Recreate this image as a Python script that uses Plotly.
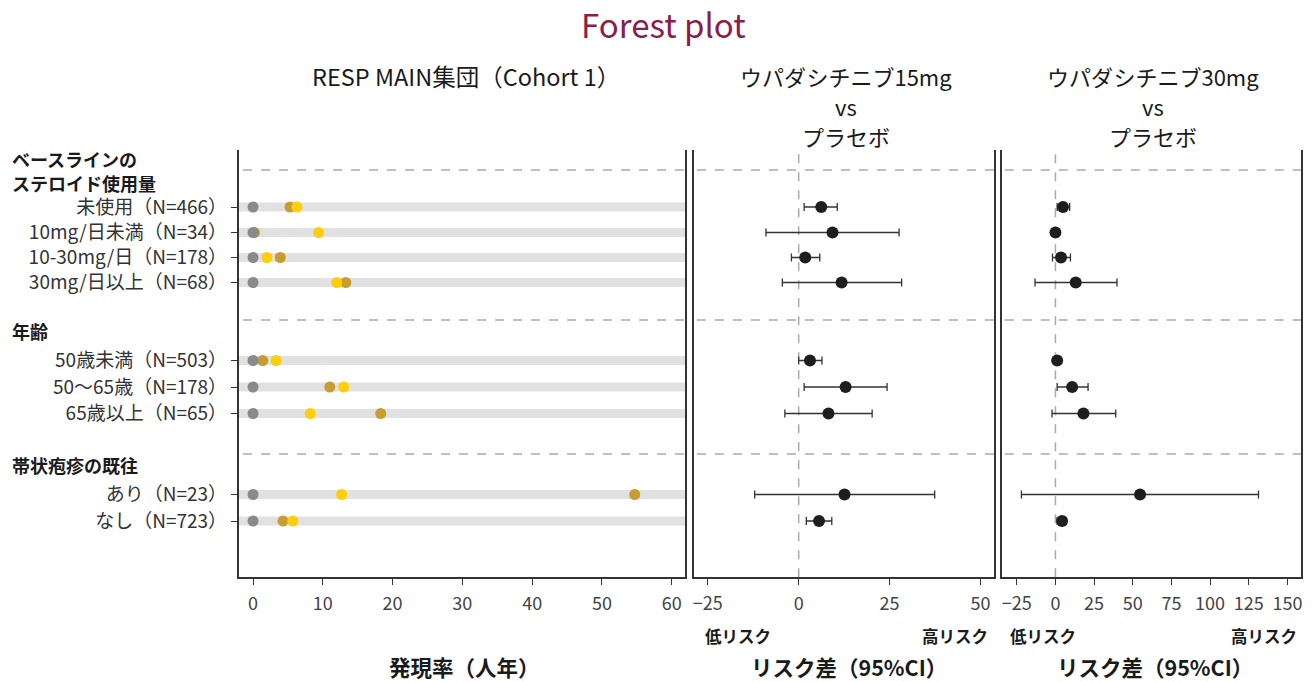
import plotly.graph_objects as go

# ---- data -------------------------------------------------------------
row_labels = [
    "未使用（N=466）", "10mg/日未満（N=34）", "10-30mg/日（N=178）", "30mg/日以上（N=68）",
    "50歳未満（N=503）", "50～65歳（N=178）", "65歳以上（N=65）",
    "あり（N=23）", "なし（N=723）",
]
group_titles = [["ベースラインの", "ステロイド使用量"], ["年齢"], ["帯状疱疹の既往"]]

# incidence rate (per 100 person-years)
rate_placebo = [0.0, 0.0, 0.0, 0.0, 0.0, 0.0, 0.0, 0.0, 0.0]
rate_15mg = [6.3, 9.4, 2.0, 12.0, 3.3, 13.0, 8.2, 12.7, 5.7]
rate_30mg = [5.3, 0.2, 3.9, 13.3, 1.4, 11.0, 18.3, 54.7, 4.3]

# risk difference vs placebo with 95% CI
rd15 = [6.2, 9.3, 1.8, 11.8, 3.1, 12.9, 8.2, 12.6, 5.6]
rd15_lo = [1.5, -9.0, -2.0, -4.5, 0.0, 1.5, -3.8, -12.1, 2.1]
rd15_hi = [10.6, 27.6, 5.8, 28.3, 6.4, 24.3, 20.2, 37.4, 9.1]

rd30 = [4.9, 0.0, 3.6, 13.1, 1.1, 10.8, 18.1, 54.7, 4.3]
rd30_lo = [1.1, -0.5, -1.9, -13.2, 0.0, 1.1, -2.2, -22.0, 1.1]
rd30_hi = [9.2, 0.5, 9.7, 39.8, 2.3, 21.1, 39.0, 131.3, 7.0]

left_ticks = [0, 10, 20, 30, 40, 50, 60]
mid_ticks = [-25, 0, 25, 50]
right_ticks = [-25, 0, 25, 50, 75, 100, 125, 150]

# ---- layout geometry (vertical positions in plot units, top = 150) ----
row_pos = [207, 232.5, 257.5, 282.5, 360.5, 387, 413.5, 494.5, 521]
separator_pos = [170, 320, 454]
group_title_pos = [159, 331, 465]
GROUP_LINE_STEP = 24
Y_RANGE = [577.3, 150]

W, H = 1316, 682
FONT = "Noto Sans CJK JP, Noto Sans, sans-serif"
C_GRAY, C_GOLD, C_YELLOW = "#8a8a8e", "#c89c32", "#fccf0a"
C_BAR = "#e1e1e1"
C_DASH = "#aaaaaa"
C_LINE = "#333333"
C_TEXT = "#1a1a1a"


def px_x(v):
    return v / W


def px_y(v):
    return 1 - v / H


dom_y = [px_y(Y_RANGE[0]), px_y(Y_RANGE[1])]
dom_left = [px_x(238), px_x(685)]
dom_mid = [px_x(694), px_x(994.5)]
dom_right = [px_x(1002.3), px_x(1302.3)]

fig = go.Figure()

# incidence dots
for vals, col in [(rate_30mg, C_GOLD), (rate_15mg, C_YELLOW), (rate_placebo, C_GRAY)]:
    fig.add_trace(go.Scatter(
        x=vals, y=row_pos, mode="markers", xaxis="x", yaxis="y",
        marker=dict(size=11, color=col, line=dict(width=0)),
        showlegend=False, hoverinfo="x",
    ))


def forest(xa, ya, est, lo, hi):
    fig.add_trace(go.Scatter(
        x=est, y=row_pos, mode="markers", xaxis=xa, yaxis=ya,
        marker=dict(size=12, color="#1e1e1e"),
        error_x=dict(type="data", symmetric=False,
                     array=[h - e for h, e in zip(hi, est)],
                     arrayminus=[e - l for e, l in zip(est, lo)],
                     color=C_LINE, thickness=1.3, width=4),
        showlegend=False, hoverinfo="x",
    ))


forest("x2", "y2", rd15, rd15_lo, rd15_hi)
forest("x3", "y3", rd30, rd30_lo, rd30_hi)

shapes = []
# grey track behind each row of the incidence panel
for y in row_pos:
    shapes.append(dict(type="rect", xref="x domain", yref="y", x0=0, x1=1,
                       y0=y - 4.5, y1=y + 4.5, fillcolor=C_BAR,
                       line=dict(width=0), layer="below"))
# dashed separators between subgroup blocks
for xr, yr in [("x domain", "y"), ("x2 domain", "y2"), ("x3 domain", "y3")]:
    for y in separator_pos:
        shapes.append(dict(type="line", xref=xr, yref=yr, x0=0.01, x1=1,
                           y0=y, y1=y, line=dict(color=C_DASH, width=1.5, dash="dash"),
                           layer="below"))
# null-effect reference lines
for xr, yr in [("x2", "y2 domain"), ("x3", "y3 domain")]:
    shapes.append(dict(type="line", xref=xr, yref=yr, x0=0, x1=0, y0=0, y1=1,
                       line=dict(color=C_DASH, width=1.5, dash="dash"), layer="below"))


def label(text, x, y, size, weight=400, color=C_TEXT, **kw):
    return dict(text=text, x=px_x(x), y=px_y(y), xref="paper", yref="paper",
                xanchor=kw.pop("xanchor", "center"), yanchor="middle",
                showarrow=False, font=dict(size=size, color=color, family=FONT, weight=weight),
                **kw)


annotations = [
    label("Forest plot", 664, 24, 33, color="#8c1c4b"),
    label("RESP MAIN集団（Cohort 1）", 466, 76, 23.5),
]
for cx, dose in [(846, "15mg"), (1154, "30mg")]:
    for i, line in enumerate([f"ウパダシチニブ{dose}", "vs", "プラセボ"]):
        annotations.append(label(line, cx, 76 + 30 * i, 22))
for lines, y in zip(group_titles, group_title_pos):
    for i, line in enumerate(lines):
        annotations.append(dict(
            text=line, x=px_x(9), y=y + GROUP_LINE_STEP * i, xref="paper", yref="y",
            xanchor="left", yanchor="middle", showarrow=False,
            font=dict(size=18, color=C_TEXT, family=FONT, weight=600)))
for lo_x, hi_x in [(738, 955), (1044, 1265)]:
    annotations.append(label("低リスク", lo_x, 636, 16.5, weight=700))
    annotations.append(label("高リスク", hi_x, 636, 16.5, weight=700))
for cx, t in [(464, "発現率（人年）"), (849, "リスク差（95%CI）"), (1156, "リスク差（95%CI）")]:
    annotations.append(label(t, cx, 666, 21.5, weight=700))

xcommon = dict(showgrid=False, zeroline=False, showline=True, linecolor=C_LINE,
               linewidth=1.5, ticks="outside", ticklen=6, tickcolor=C_LINE,
               ticklabelstandoff=3,
               tickfont=dict(size=18, color="#444444", family=FONT), fixedrange=True)
ycommon = dict(range=Y_RANGE, domain=dom_y, showgrid=False, zeroline=False,
               showline=True, mirror=True, linecolor=C_LINE, linewidth=1.5,
               fixedrange=True)

fig.update_layout(
    width=W, height=H, margin=dict(l=0, r=0, t=0, b=0),
    paper_bgcolor="white", plot_bgcolor="white",
    font=dict(family=FONT),
    xaxis=dict(domain=dom_left, range=[-2.06, 61.9], tickvals=left_ticks, anchor="y", **xcommon),
    xaxis2=dict(domain=dom_mid, range=[-28.8, 53.7], tickvals=mid_ticks, anchor="y2", **xcommon),
    xaxis3=dict(domain=dom_right, range=[-34.7, 159], tickvals=right_ticks, anchor="y3", **xcommon),
    yaxis=dict(anchor="x", tickvals=row_pos, ticktext=row_labels, ticks="outside",
               ticklen=6, tickcolor=C_LINE,
               tickfont=dict(size=19, color="#333333", family=FONT), **ycommon),
    yaxis2=dict(anchor="x2", showticklabels=False, **ycommon),
    yaxis3=dict(anchor="x3", showticklabels=False, **ycommon),
    shapes=shapes, annotations=annotations,
)

fig.write_html("out.html")
